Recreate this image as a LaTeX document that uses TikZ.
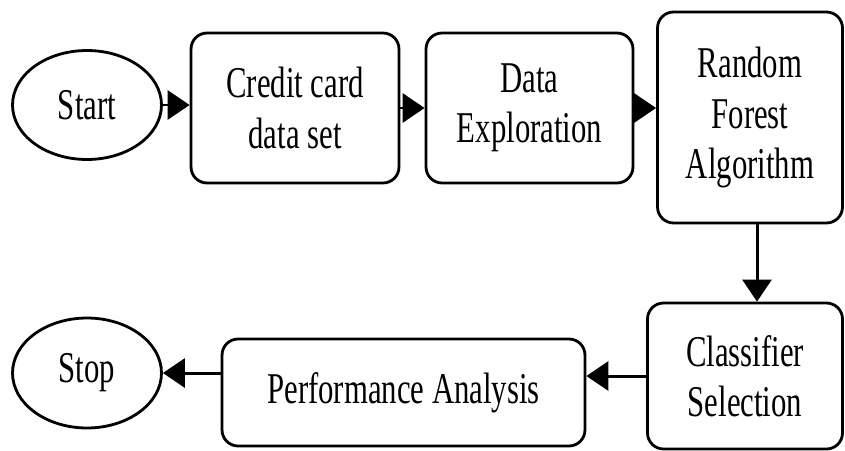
\documentclass[tikz,border=0pt]{standalone}
\usepackage{fontspec}
\setmainfont[FakeStretch=0.7]{Liberation Serif}
\usetikzlibrary{shapes.geometric,arrows.meta}

\begin{document}
\begin{tikzpicture}[
    x=0.02cm, y=-0.02cm,
    every node/.style={font=\fontsize{25}{28.5}\selectfont, align=center, inner sep=0pt},
    terminal/.style={draw, ellipse, line width=1.6pt, minimum width=2.98cm,
      minimum height=2.18cm},
    process/.style={draw, rectangle, rounded corners=0.32cm, line width=1.6pt},
    arrow/.style={line width=1.7pt, -{Triangle[length=0.44cm,width=0.58cm]}}
]
\useasboundingbox (0,0) rectangle (845,450);

\node (start)    [terminal] at (87,105) {Start};
\node (dataset)  [process, minimum width=4.16cm, minimum height=3cm] at (295,108)
  {Credit card\\data set};
\node (explore)  [process, minimum width=4.14cm, minimum height=3cm] at (529.5,108)
  {Data\\Exploration};
\node (forest)   [process, minimum width=3.7cm, minimum height=4.22cm] at (750,117.5)
  {Random\\Forest\\Algorithm};
\node (classify) [process, minimum width=3.9cm, minimum height=2.92cm] at (745,376)
  {Classifier\\Selection};
\node (perf)     [process, minimum width=7.26cm, minimum height=2.14cm] at (403.5,392.5)
  {Performance Analysis};
\node (stop)     [terminal, minimum height=2.2cm] at (87,373) {Stop};

\draw [arrow] (start.east)    -- (start.east -| dataset.west);
\draw [arrow] (dataset)       -- (explore);
\draw [arrow] (explore.east)  -- (explore.east -| forest.west);
\draw [arrow] ([xshift=0.14cm]forest.south) -- ([xshift=0.14cm]forest.south |- classify.north);
\draw [arrow] (classify.west) -- (classify.west -| perf.east);
\draw [arrow] (stop.east -| perf.west) -- (stop.east);
\end{tikzpicture}
\end{document}
